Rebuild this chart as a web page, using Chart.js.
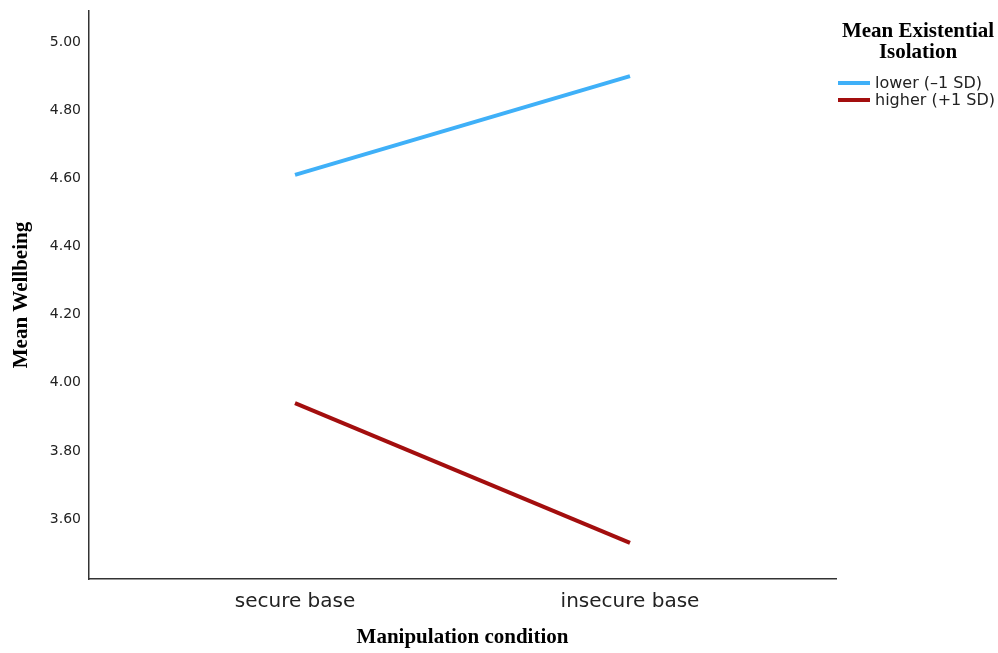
<!DOCTYPE html>
<html>
<head>
<meta charset="utf-8">
<script src="https://cdn.jsdelivr.net/npm/chart.js@4/dist/chart.umd.min.js"></script>
<style>
  body { margin: 0; background: #fff; }
  #wrap { position: relative; width: 998px; height: 653px; }
  #legend { position: absolute; left: 838px; top: 20px; width: 160px; }
  #legend .ttl { font: bold 21px "Liberation Serif", "Times New Roman", serif; line-height: 21px; text-align: center; color: #000; }
  #legend .item { display: flex; align-items: center; height: 17px; font: 16px "DejaVu Sans", sans-serif; color: #222; }
  #legend .sw { width: 32px; height: 4px; margin-right: 5px; }
</style>
</head>
<body>
<div id="wrap">
  <canvas id="myChart" width="998" height="653"></canvas>
  <div id="legend"></div>
</div>
<script>
var categories = ["secure base", "insecure base"];
var lowerIso = [4.61, 4.90];
var higherIso = [3.94, 3.53];
var yTicks = [3.60, 3.80, 4.00, 4.20, 4.40, 4.60, 4.80, 5.00];
var seriesNames = ["lower (\u20131 SD)", "higher (+1 SD)"];
var seriesColors = ["#3fb0f8", "#a30e0e"];
var legendTitle = ["Mean Existential", "Isolation"];

function toPoints(vals){
  return vals.map(function(v, i){ return {x: i, y: v}; });
}

var data = {
  datasets: [lowerIso, higherIso].map(function(vals, i){
    return {
      label: seriesNames[i],
      data: toPoints(vals),
      borderColor: seriesColors[i],
      backgroundColor: seriesColors[i],
      borderWidth: 4,
      pointRadius: 0,
      fill: false,
      tension: 0
    };
  })
};

var chart = new Chart(document.getElementById('myChart').getContext('2d'), {
  type: 'line',
  data: data,
  options: {
    responsive: false,
    animation: false,
    layout: { padding: { top: 11, right: 162, left: 0, bottom: 0 } },
    plugins: { legend: { display: false }, tooltip: { enabled: false } },
    scales: {
      x: {
        type: 'linear',
        min: -0.615,
        max: 1.615,
        grid: { display: false, drawTicks: false },
        border: { display: true, color: '#333', width: 1.5 },
        afterBuildTicks: function(scale){
          scale.ticks = categories.map(function(c, i){ return {value: i}; });
        },
        afterFit: function(scale){ scale.height = 74; scale.paddingLeft = 0; scale.paddingRight = 0; },
        ticks: {
          padding: 11,
          color: '#222',
          font: { family: 'DejaVu Sans', size: 20 },
          callback: function(v){ return categories[v]; }
        },
        title: {
          display: true,
          text: 'Manipulation condition',
          color: '#000',
          font: { family: 'Liberation Serif', size: 21, weight: 'bold' },
          padding: { top: 0, bottom: 3 }
        }
      },
      y: {
        min: 3.424,
        max: 5.091,
        grid: { display: false, drawTicks: false },
        border: { display: true, color: '#333', width: 1.5 },
        afterBuildTicks: function(scale){
          scale.ticks = yTicks.map(function(v){ return {value: v}; });
        },
        afterFit: function(scale){ scale.width = 89; scale.paddingTop = 0; scale.paddingBottom = 0; },
        ticks: {
          padding: 8,
          color: '#222',
          font: { family: 'DejaVu Sans', size: 14 },
          callback: function(v){ return Number(v).toFixed(2); }
        },
        title: {
          display: true,
          text: 'Mean Wellbeing',
          color: '#000',
          font: { family: 'Liberation Serif', size: 21, weight: 'bold' },
          padding: { top: 9, bottom: 0 }
        }
      }
    }
  }
});

// legend on the right, built from the dataset names and colours
var lg = document.getElementById('legend');
var html = '<div class="ttl">' + legendTitle.join('<br>') + '</div><div style="height:12px"></div>';
seriesNames.forEach(function(name, i){
  html += '<div class="item"><span class="sw" style="background:' + seriesColors[i] + '"></span>' + name + '</div>';
});
lg.innerHTML = html;
</script>
</body>
</html>
